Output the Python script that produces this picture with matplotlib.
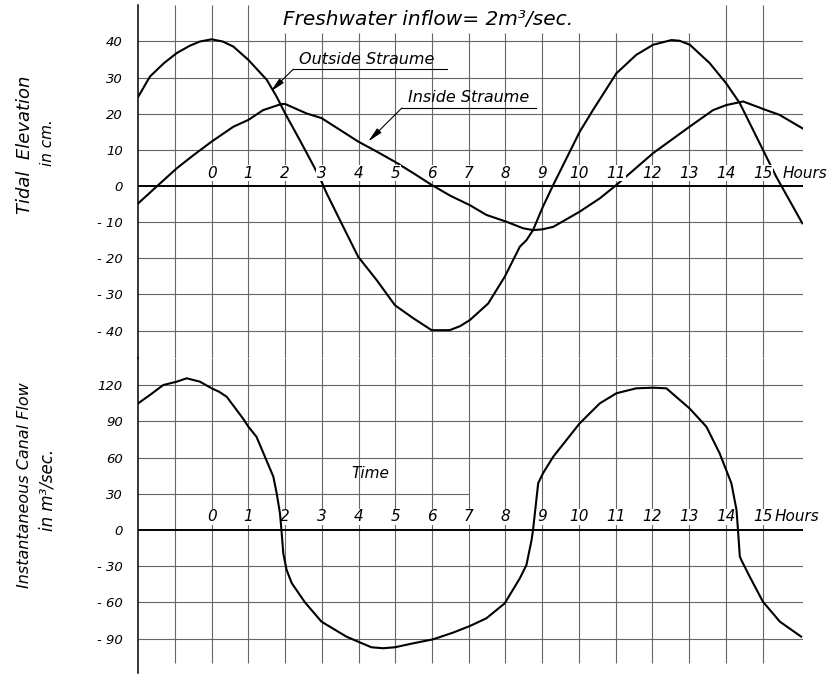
import matplotlib
matplotlib.use("Agg")
from matplotlib import pyplot as plt

# time axis (hours)
hour_labels = list(range(0, 16))
grid_hours = list(range(-1, 16))

# tidal elevation, cm
outside_hours = [-2.0, -1.68, -1.3, -0.95, -0.6, -0.32, 0.0, 0.3, 0.59, 1.0, 1.5, 1.77,
                 2.0, 2.4, 2.81, 3.0, 3.13, 3.49, 3.99, 4.49, 4.99, 5.49, 5.99, 6.48,
                 6.76, 7.03, 7.53, 7.98, 8.39, 8.57, 8.75, 9.02, 9.3, 10.02, 10.38, 11.02,
                 11.56, 12.02, 12.52, 12.74, 13.02, 13.56, 14.01, 14.38, 15.01, 15.37, 16.08]
outside_level = [24.7, 30.3, 34.0, 36.8, 38.8, 40.0, 40.6, 40.0, 38.6, 34.9, 29.4, 24.7,
                 20.1, 12.7, 4.9, 1.0, -2.0, -9.4, -19.6, -26.0, -33.0, -36.6, -39.9, -39.9,
                 -38.8, -37.1, -32.5, -25.1, -16.8, -15.0, -12.2, -5.7, 0.3, 15.0, 21.0, 31.2,
                 36.3, 39.1, 40.4, 40.2, 39.1, 34.0, 28.4, 22.9, 10.0, 2.6, -10.3]

inside_hours = [-2.0, -1.45, -0.95, -0.5, 0.0, 0.59, 1.0, 1.4, 1.9, 2.0, 2.58, 2.99,
                3.5, 3.99, 4.5, 4.99, 5.5, 5.99, 6.5, 7.03, 7.48, 8.03, 8.48, 8.75,
                9.0, 9.3, 10.02, 10.57, 11.02, 12.02, 13.01, 13.65, 14.01, 14.47, 15.1,
                15.46, 16.08]
inside_level = [-4.8, 0.3, 4.9, 8.5, 12.3, 16.4, 18.3, 21.0, 22.7, 22.7, 20.1, 18.8,
                15.5, 12.3, 9.5, 6.7, 3.5, 0.3, -2.7, -5.3, -8.0, -9.9, -11.7, -12.2,
                -12.0, -11.3, -7.1, -3.4, 0.3, 9.1, 16.4, 21.0, 22.4, 23.4, 21.0,
                19.7, 16.0]

# canal flow, m3/sec
flow_hours = [-2.0, -1.68, -1.32, -0.95, -0.68, -0.32, 0.0, 0.2, 0.41, 0.59, 0.86, 1.0, 1.22,
              1.45, 1.68, 1.77, 1.86, 1.9, 1.95, 2.04, 2.18, 2.54, 2.99, 3.67, 3.99,
              4.35, 4.67, 4.99, 5.49, 6.03, 6.57, 7.03, 7.48, 7.98, 8.39, 8.57, 8.71,
              8.75, 8.89, 9.02, 9.3, 9.66, 10.02, 10.57, 11.02, 11.56, 12.02, 12.38,
              13.01, 13.47, 13.83, 14.15, 14.29, 14.33, 14.38, 14.42, 14.65, 15.01,
              15.47, 16.05]
flow_value = [104.9, 111.8, 120.0, 122.8, 125.6, 122.8, 117.3, 114.5, 110.3, 103.0, 92.0, 85.5, 77.2,
              60.7, 44.1, 30.4, 13.8, 0.0, -19.3, -33.0, -44.0, -59.9, -75.9, -88.3, -92.5,
              -97.1, -97.9, -97.1, -93.8, -90.5, -85.0, -79.5, -73.1, -60.7, -40.0, -29.0, -8.3,
              0.0, 38.7, 46.9, 60.7, 74.5, 88.3, 104.9, 113.2, 117.3, 117.8, 117.3,
              100.7, 85.5, 63.5, 38.7, 16.6, 0.0, -22.0, -24.8, -38.7, -59.4,
              -75.9, -88.3]

elev_ticks = [40, 30, 20, 10, 0, -10, -20, -30, -40]
elev_labels = ["40", "30", "20", "10", "0", "- 10", "- 20", "- 30", "- 40"]
flow_ticks = [120, 90, 60, 30, 0, -30, -60, -90]
flow_labels = ["120", "90", "60", "30", "0", "- 30", "- 60", "- 90"]

X_MIN, X_MAX = -2.0, 16.1
GRID = "0.4"
W, H = 835, 674


def setup_axes(ax, ylim, ticks, labels):
    ax.set_xlim(X_MIN, X_MAX)
    ax.set_ylim(*ylim)
    for side in ["top", "right", "bottom"]:
        ax.spines[side].set_visible(False)
    ax.spines["left"].set_linewidth(1.1)
    ax.set_xticks([])
    ax.set_yticks(ticks)
    ax.set_yticklabels(labels, style="italic", fontsize=9.5)
    ax.tick_params(axis="y", length=0, pad=11)
    ax.patch.set_alpha(0)


def hour_row(ax, y, hours_x, zorder):
    for h in hour_labels:
        ax.text(h, y, str(h), ha="center", va="center", fontsize=11, style="italic",
                bbox=dict(fc="white", ec="none", pad=0.4), zorder=zorder)
    ax.text(hours_x, y, "Hours", ha="left", va="center", fontsize=11, style="italic",
            zorder=zorder)


def leader(ax, tip, corner, end, y_text, x_text, text):
    ax.plot([corner[0], end], [corner[1], corner[1]], color="black", lw=0.8)
    ax.annotate("", xy=tip, xytext=corner,
                arrowprops=dict(arrowstyle="-|>,head_length=0.9,head_width=0.18",
                                color="black", lw=0.8, shrinkA=0, shrinkB=0))
    ax.text(x_text, y_text, text, ha="left", va="center", fontsize=11.5, style="italic")


def main():
    plt.rcParams["font.family"] = "DejaVu Sans"
    fig = plt.figure(figsize=(W / 100, H / 100), dpi=100)
    left = 138.2 / W
    width = 664.8 / W
    ax_top = fig.add_axes([left, 316 / H, width, 353 / H])
    ax_bot = fig.add_axes([left, 1 / H, width, 315 / H])

    setup_axes(ax_top, (-47.6, 50.1), elev_ticks, elev_labels)
    setup_axes(ax_bot, (-118.4, 142.4), flow_ticks, flow_labels)

    # grid, top panel (verticals under the title stop short)
    tops = [42.4 if 2 <= h <= 13 else 50.1 for h in grid_hours]
    ax_top.vlines(grid_hours, -47.6, tops, color=GRID, lw=0.8)
    for lv in elev_ticks:
        ax_top.hlines(lv, X_MIN, X_MAX, color="black" if lv == 0 else GRID,
                      lw=1.4 if lv == 0 else 0.8)

    # grid, bottom panel
    ax_bot.vlines(grid_hours, -110, 142.4, color=GRID, lw=0.8)
    for lv in flow_ticks:
        end = 7.0 if lv == 30 else X_MAX
        ax_bot.hlines(lv, X_MIN, end, color="black" if lv == 0 else GRID,
                      lw=1.4 if lv == 0 else 0.8)

    ax_top.plot(outside_hours, outside_level, color="black", lw=1.5, zorder=3)
    ax_top.plot(inside_hours, inside_level, color="black", lw=1.5, zorder=3)
    ax_bot.plot(flow_hours, flow_value, color="black", lw=1.5, zorder=3)

    hour_row(ax_top, 3.6, 15.54, 4)
    hour_row(ax_bot, 11.0, 15.34, 2)

    ax_top.text(5.89, 46.0, "Freshwater inflow= 2m³/sec.", ha="center", va="center",
                fontsize=14.5, style="italic")
    leader(ax_top, (1.6, 26.1), (2.22, 32.3), 6.4, 34.9, 2.39, "Outside Straume")
    leader(ax_top, (4.26, 12.3), (5.18, 21.6), 8.84, 24.4, 5.35, "Inside Straume")
    ax_bot.text(4.33, 46.4, "Time", ha="center", va="center", fontsize=11, style="italic")

    fig.text(25 / W, 1 - 145 / H, "Tidal  Elevation", rotation=90, ha="center", va="center",
             fontsize=13, style="italic")
    fig.text(48 / W, 1 - 143 / H, "in cm.", rotation=90, ha="center", va="center",
             fontsize=11, style="italic")
    fig.text(25 / W, 1 - 485 / H, "Instantaneous Canal Flow", rotation=90, ha="center",
             va="center", fontsize=11.5, style="italic")
    fig.text(48 / W, 1 - 490 / H, "in m³/sec.", rotation=90, ha="center", va="center",
             fontsize=12, style="italic")

    fig.savefig("out.png", dpi=100)


if __name__ == "__main__":
    main()
